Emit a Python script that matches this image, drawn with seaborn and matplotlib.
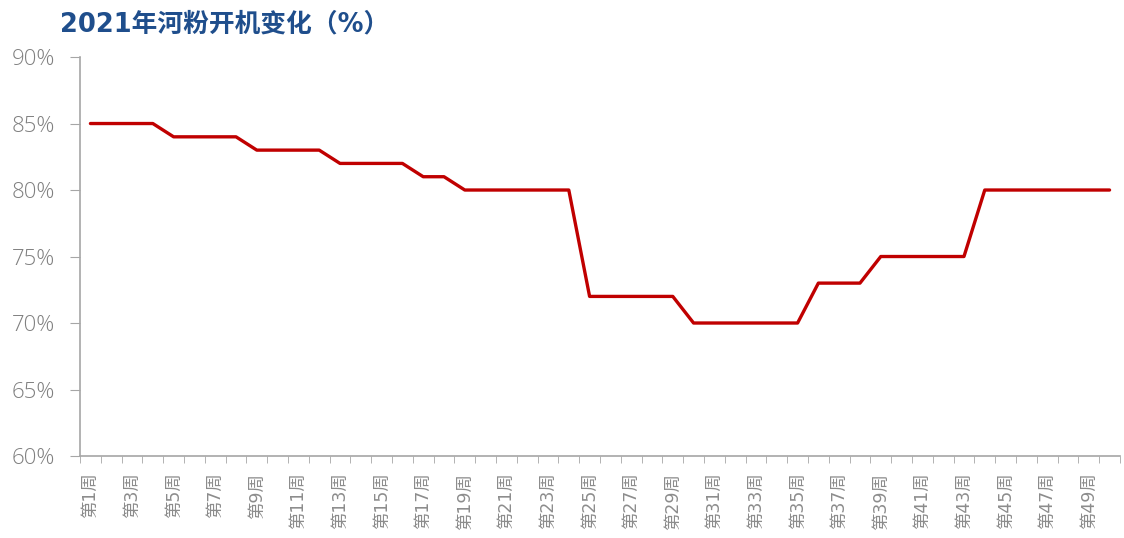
import matplotlib
matplotlib.use('Agg')
import matplotlib.pyplot as plt
import seaborn as sns
import pandas as pd
from matplotlib.ticker import FixedLocator, FuncFormatter

weeks = list(range(1, 51))
rates = [85, 85, 85, 85, 84, 84, 84, 84, 83, 83, 83, 83, 82, 82, 82, 82,
         81, 81, 80, 80, 80, 80, 80, 80, 72, 72, 72, 72, 72,
         70, 70, 70, 70, 70, 70, 73, 73, 73, 75, 75, 75, 75, 75,
         80, 80, 80, 80, 80, 80, 80]
week_labels = [f"第{w}周" for w in weeks]

df = pd.DataFrame({"week": weeks, "rate": rates})

sns.set_style("white")
plt.rcParams['font.family'] = ['Noto Sans CJK SC', 'DejaVu Sans']
mixed = ['DejaVu Sans', 'Noto Sans CJK SC']

fig = plt.figure(figsize=(11.24, 5.38), dpi=100)
ax = fig.add_axes([0.0712, 0.1524, 0.9252, 0.7416])

sns.lineplot(data=df, x="week", y="rate", ax=ax, color="#C00000", linewidth=2.4)

ax.set_xlim(0.5, 50.5)
ax.set_ylim(60, 90)
ax.set_yticks(range(60, 91, 5))
ax.yaxis.set_major_formatter(FuncFormatter(lambda v, p: f"{v:.0f}%"))

odd = [w for w in weeks if w % 2 == 1]
ax.set_xticks(odd)
ax.set_xticklabels([week_labels[w - 1] for w in odd], rotation=90, family=mixed)
ax.xaxis.set_minor_locator(FixedLocator([w + 0.5 for w in range(0, 51)]))

ax.tick_params(axis='x', which='major', length=0, pad=12, labelsize=12.5, labelcolor='#8C8C8C')
ax.tick_params(axis='x', which='minor', length=5, color='#A6A6A6', bottom=True)
ax.tick_params(axis='y', length=7, color='#A6A6A6', labelsize=16, labelcolor='#808080',
               left=True, pad=11)
for lbl in ax.get_yticklabels():
    lbl.set_family(['Open Sans', 'DejaVu Sans'])
    lbl.set_fontweight('light')

ax.set_xlabel("")
ax.set_ylabel("")
for s in ['top', 'right']:
    ax.spines[s].set_visible(False)
for s in ['left', 'bottom']:
    ax.spines[s].set_color('#A6A6A6')
    ax.spines[s].set_linewidth(1.2)

fig.text(0.053, 0.955, "2021年河粉开机变化（%）", fontsize=18.5, fontweight='bold',
         color='#1F4E8C', ha='left', va='center', family=mixed)

fig.savefig("out.png", dpi=100)
